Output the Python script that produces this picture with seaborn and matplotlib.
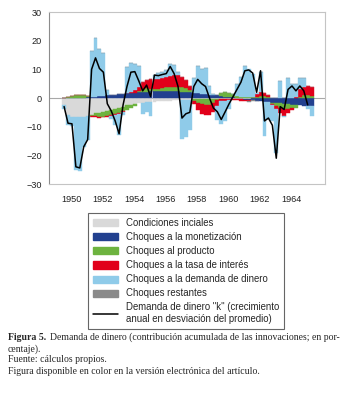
"""
plot.py - Demanda de dinero: contribucion acumulada de las innovaciones
Stacked quarterly bars (1950-1965) with the k line on top
"""

import numpy as np
import matplotlib
matplotlib.use("Agg")
import matplotlib.pyplot as plt
import seaborn as sns
from matplotlib.patches import Patch
from matplotlib.lines import Line2D

sns.set_style("white")
plt.rcParams['font.family'] = ['Liberation Sans', 'DejaVu Sans']

# ============================================================
# DATA (quarterly, 1950Q1 - 1965Q4)
# ============================================================

first_year = 1950
year_labels = ['1950', '1952', '1954', '1956', '1958', '1960', '1962', '1964']

iniciales = [-2.5, -6.0, -6.5, -6.7, -6.7, -6.6, -6.3, -5.8,
             -5.4, -5.1, -4.8, -4.5, -4.2, -3.8, -3.4, -3.0,
             -2.6, -2.3, -2.0, -1.8, -1.6, -1.5, -1.4, -1.3,
             -1.2, -1.1, -1.0, -0.9, -0.8, -0.8, -0.7, -0.7,
             -0.6, -0.5, -0.4, -0.4, -0.3, -0.3, -0.3, -0.2,
             -0.2, -0.2, -0.2, -0.2, -0.2, -0.2, -0.2, -0.2,
             -0.1, -0.1, -0.1, -0.1, -0.1, -0.1, -0.1, -0.1,
             -0.1, -0.1, -0.1, -0.1, -0.1, -0.1, -0.1, -0.1]

monetizacion = [0.0, 0.0, 0.0, 0.0, 0.1, 0.1, 0.2, 0.3,
                0.5, 0.6, 0.8, 0.9, 1.0, 1.2, 1.3, 1.4,
                1.6, 1.7, 1.9, 2.0, 2.1, 2.2, 2.3, 2.4,
                2.4, 2.5, 2.5, 2.5, 2.4, 2.3, 2.2, 2.1,
                2.0, 1.9, 1.7, 1.5, 1.4, 1.2, 1.0, 0.9,
                0.7, 0.5, 0.4, 0.2, 0.0, -0.2, -0.4, -0.5,
                -0.7, -0.9, -1.0, -1.2, -1.3, -1.5, -1.6, -1.8,
                -1.9, -2.0, -2.2, -2.3, -2.4, -2.6, -2.7, -2.8]

producto = [0.0, 0.5, 0.8, 1.0, 1.1, 1.0, 0.6, -0.5,
            -1.0, -1.5, -1.7, -1.8, -1.8, -1.8, -1.8, -1.7,
            -1.5, -1.2, -0.8, 0.5, 1.0, 1.2, 1.0, 0.8,
            0.8, 1.0, 1.2, 1.5, 1.6, 1.6, 1.5, 1.3,
            0.8, -0.5, -1.2, -1.8, -2.0, -2.0, -1.5, -0.5,
            1.0, 1.5, 1.5, 1.2, 0.8, 0.5, 0.3, 0.2,
            0.2, 0.5, 0.8, 0.8, 0.5, -0.5, -1.0, -1.5,
            -1.8, -1.6, -1.3, -1.0, 0.5, 1.0, 1.0, 0.8]

tasa_interes = [0.0, 0.0, 0.0, 0.0, 0.0, 0.0, 0.0, -0.2,
                -0.3, -0.3, -0.3, -0.3, -0.3, -0.3, -0.3, -0.2,
                0.3, 0.5, 1.0, 1.5, 2.5, 3.0, 3.2, 3.3,
                3.5, 3.5, 3.6, 3.8, 4.0, 4.0, 3.6, 2.8,
                1.5, -1.0, -2.5, -3.5, -3.8, -3.5, -3.0, -2.0,
                -1.0, -0.8, -0.5, -0.5, -0.6, -0.6, -0.5, -0.3,
                0.3, 0.8, 1.2, 1.0, 0.5, -0.5, -1.0, -2.0,
                -2.5, -1.5, -0.5, 0.5, 2.5, 3.0, 3.2, 3.0]

demanda_dinero = [-1.5, -3.3, -3.3, -18.3, -18.8, -10.5, -8.5, 16.2,
                  20.3, 16.5, 15.0, 2.0, -1.0, -3.5, -7.5, -1.0,
                  9.0, 10.0, 9.0, 7.0, -4.0, -3.5, -5.0, 1.5,
                  2.0, 2.0, 2.5, 4.0, 3.5, 1.0, -13.5, -13.0,
                  -10.5, 5.0, 9.3, 8.5, 9.0, 3.0, 0.5, -5.0,
                  -8.0, -7.0, -3.0, 0.0, 4.0, 7.0, 11.0, 10.0,
                  8.0, 0.5, 7.0, -12.0, -6.0, -5.5, -15.5, 6.0,
                  -0.5, 7.0, 5.0, 4.5, 4.0, 3.0, -1.0, -3.5]

restantes = [0.0, 0.0, 0.0, 0.0, 0.0, 0.0, 0.0, 0.0,
             0.0, 0.0, 0.0, 0.0, 0.0, 0.0, 0.0, 0.0,
             0.0, 0.0, 0.0, 0.0, 0.0, 0.0, 0.0, 0.0,
             0.0, 0.0, 0.0, 0.0, 0.0, 0.0, 0.0, 0.0,
             0.0, 0.0, 0.0, 0.0, 0.0, 0.0, 0.0, 0.0,
             0.0, 0.0, 0.0, 0.0, 0.0, 0.0, 0.0, -0.3,
             -0.3, -0.2, 0.0, 0.0, 0.0, 0.0, 0.0, 0.0,
             0.0, 0.0, 0.0, 0.0, 0.0, 0.0, 0.0, 0.0]

demanda_k = [-3.0, -8.8, -9.0, -24.0, -24.4, -17.0, -14.5, 10.0,
             14.0, 10.3, 9.0, -2.0, -4.5, -8.0, -12.5, -2.5,
             4.0, 9.0, 9.2, 6.0, 2.5, 4.5, 0.5, 8.0,
             7.8, 8.2, 8.5, 11.0, 8.5, 4.0, -7.0, -5.5,
             -5.0, 4.0, 6.5, 5.0, 4.0, 0.0, -3.5, -4.8,
             -7.5, -4.8, -2.0, 0.5, 3.0, 5.5, 9.5, 9.8,
             8.7, 2.0, 9.5, -8.0, -7.0, -9.5, -21.0, -3.0,
             -4.0, 3.0, 4.2, 2.5, 4.2, 2.5, -2.4]

labels = ['Condiciones inciales',
          'Choques a la monetización',
          'Choques al producto',
          'Choques a la tasa de interés',
          'Choques a la demanda de dinero',
          'Choques restantes',
          'Demanda de dinero "k" (crecimiento\nanual en desviación del promedio)']
colors = ['#d9d9d9', '#22408f', '#6db33f', '#e1001a', '#8fcbe9', '#8a8a8a']

# ============================================================
# FIGURE
# ============================================================

W, H = 354, 396
fig = plt.figure(figsize=(W / 100, H / 100), dpi=100)
ax = fig.add_axes([49 / W, 1 - 184 / H, 276 / W, 172 / H])

x = first_year + np.arange(len(iniciales)) / 4

# stacked bars: positives grow up from 0, negatives grow down
pos = np.zeros(len(x))
neg = np.zeros(len(x))
for vals, col in zip([iniciales, monetizacion, producto, tasa_interes, demanda_dinero, restantes], colors):
    v = np.array(vals)
    bottom = np.where(v >= 0, pos, neg)
    ax.bar(x, v, width=0.25, bottom=bottom, color=col, edgecolor=col, linewidth=0.3, zorder=2)
    pos += np.clip(v, 0, None)
    neg += np.clip(v, None, 0)

sns.lineplot(x=x[:len(demanda_k)], y=demanda_k, color='black', linewidth=1.1, ax=ax, zorder=4)
ax.axhline(0, color='#a8a8a8', linewidth=0.8, zorder=1)

# axes
ax.set_xlim(1949.04, 1966.6)
ax.set_ylim(-30, 30)
ax.set_yticks(range(-30, 31, 10))
ax.set_xticks(np.arange(1950, 1967))
ax.set_xticks([int(y) + 0.45 for y in year_labels], minor=True)
ax.set_xticklabels(year_labels, minor=True)
ax.tick_params(axis='x', which='major', length=4, width=0.6, color='#9a9a9a', labelbottom=False)
ax.tick_params(axis='x', which='minor', length=0, labelsize=6.6, pad=8, labelcolor='#222222')
ax.tick_params(axis='y', length=3, width=0.6, color='#9a9a9a', labelsize=6.6, pad=2, labelcolor='#222222')
ax.set_xlabel('')
ax.set_ylabel('')
for side in ['top', 'right', 'bottom']:
    ax.spines[side].set_color('#c4c4c4')
    ax.spines[side].set_linewidth(0.8)
ax.spines['left'].set_color('#8c8c8c')
ax.spines['left'].set_linewidth(0.8)

# legend
handles = [Patch(facecolor=c, edgecolor=c) for c in colors] + [Line2D([], [], color='black', linewidth=1.1)]
leg = fig.legend(handles, labels, loc='upper left',
                 bbox_to_anchor=(88 / W, 1 - 213 / H), bbox_transform=fig.transFigure,
                 frameon=True, fancybox=False, edgecolor='#404040', fontsize=6.9,
                 handlelength=2.6, handleheight=0.75, handletextpad=0.8,
                 labelspacing=0.42, borderpad=0.55, borderaxespad=0)
leg.get_frame().set_linewidth(0.8)

# caption
serif = ['Liberation Serif', 'DejaVu Serif']
fig.text(8 / W, 1 - 337 / H, 'Figura 5.', family=serif, fontsize=7, fontweight='bold', va='center')
fig.text(50 / W, 1 - 337 / H, 'Demanda de dinero (contribución acumulada de las innovaciones; en por-',
         family=serif, fontsize=7, va='center')
fig.text(8 / W, 1 - 349 / H, 'centaje).', family=serif, fontsize=7, va='center')
fig.text(8 / W, 1 - 360 / H, 'Fuente: cálculos propios.', family=serif, fontsize=7, va='center')
fig.text(8 / W, 1 - 372 / H, 'Figura disponible en color en la versión electrónica del artículo.',
         family=serif, fontsize=7, va='center')

fig.savefig('out.png', dpi=100)
